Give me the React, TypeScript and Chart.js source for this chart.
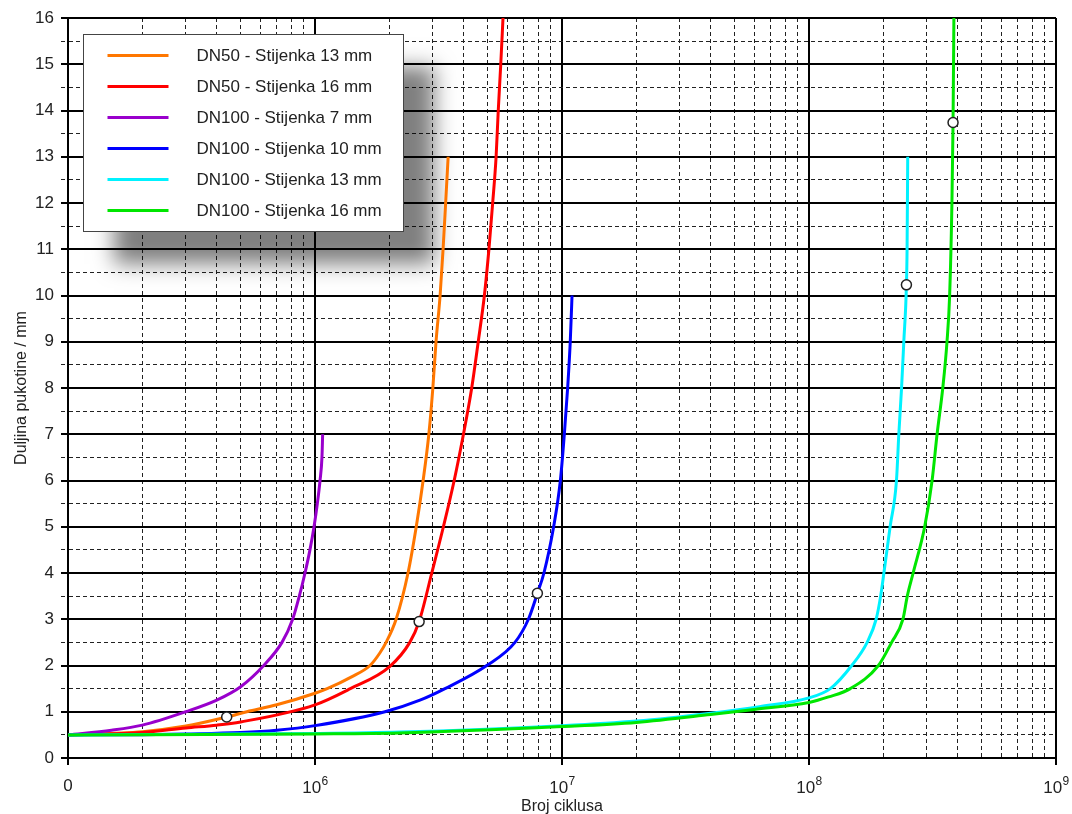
import React, { useEffect, useRef } from 'react';
import { Chart, registerables } from 'chart.js';

Chart.register(...registerables);

const FONT = "'Liberation Sans', Arial, sans-serif";

// Series labels and colours
const seriesLabels = [
  'DN50 - Stijenka 13 mm',
  'DN50 - Stijenka 16 mm',
  'DN100 - Stijenka 7 mm',
  'DN100 - Stijenka 10 mm',
  'DN100 - Stijenka 13 mm',
  'DN100 - Stijenka 16 mm',
];
const seriesColors = ['#FF7700', '#FF0000', '#9900CC', '#0000FF', '#00F2FF', '#00E600'];

// DN50 - 13 mm
const dn50w13N = [1e5, 2.0e5, 3.0e5, 4.39e5, 5.3e5, 7.0e5, 1.0e6, 1.12e6, 1.4e6, 1.67e6, 1.83e6, 1.94e6, 2.13e6, 2.38e6, 2.57e6, 2.74e6, 2.89e6, 3.0e6, 3.09e6, 3.21e6, 3.3e6, 3.38e6, 3.46e6];
const dn50w13L = [0.5, 0.57, 0.69, 0.886, 1.0, 1.15, 1.4, 1.5, 1.75, 2.0, 2.27, 2.5, 3.0, 4.0, 5.0, 6.0, 7.0, 8.0, 9.0, 10.0, 11.0, 12.0, 13.0];

// DN50 - 16 mm
const dn50w16N = [1e5, 2.0e5, 3.0e5, 4.0e5, 5.0e5, 1.0e6, 1.39e6, 2.0e6, 2.42e6, 2.64e6, 2.97e6, 3.31e6, 3.66e6, 3.99e6, 4.31e6, 4.58e6, 4.85e6, 5.06e6, 5.24e6, 5.41e6, 5.52e6, 5.65e6, 5.77e6];
const dn50w16L = [0.5, 0.55, 0.65, 0.71, 0.78, 1.15, 1.5, 1.97, 2.5, 2.95, 4.0, 5.0, 6.0, 7.0, 8.0, 9.0, 10.0, 11.0, 12.0, 13.0, 14.0, 15.0, 16.0];

// DN100 - 7 mm
const dn100w7N = [1e5, 1.5e5, 2.0e5, 3.0e5, 4.0e5, 5.0e5, 6.2e5, 7.35e5, 8.12e5, 8.64e5, 9.11e5, 9.54e5, 9.91e5, 1.022e6, 1.048e6, 1.067e6, 1.074e6];
const dn100w7L = [0.5, 0.6, 0.71, 1.0, 1.25, 1.54, 2.0, 2.5, 3.0, 3.5, 4.0, 4.5, 5.0, 5.5, 6.0, 6.5, 7.0];

// DN100 - 10 mm
const dn100w10N = [1e5, 2e5, 3e5, 5e5, 7e5, 1.0e6, 1.92e6, 2.66e6, 3.36e6, 4.96e6, 6.45e6, 7.31e6, 7.95e6, 8.45e6, 9.25e6, 9.85e6, 1.022e7, 1.054e7, 1.08e7, 1.098e7];
const dn100w10L = [0.5, 0.505, 0.52, 0.55, 0.6, 0.7, 1.0, 1.25, 1.5, 2.0, 2.5, 3.0, 3.56, 4.0, 5.0, 6.0, 7.0, 8.0, 9.0, 10.0];

// DN100 - 13 mm
const dn100w13N = [1e5, 1e6, 2.2e6, 1e7, 2e7, 4e7, 6.3e7, 1e8, 1.22e8, 1.49e8, 1.72e8, 1.87e8, 1.95e8, 2.01e8, 2.13e8, 2.26e8, 2.31e8, 2.37e8, 2.42e8, 2.48e8, 2.495e8, 2.51e8];
const dn100w13L = [0.5, 0.53, 0.56, 0.7, 0.8, 0.97, 1.11, 1.3, 1.5, 2.0, 2.5, 3.0, 3.5, 4.0, 5.0, 6.0, 7.0, 8.0, 9.0, 10.23, 11.0, 13.0];

// DN100 - 16 mm
const dn100w16N = [1e5, 1e6, 2.2e6, 1e7, 2e7, 4e7, 6e7, 1e8, 1.2e8, 1.47e8, 1.91e8, 2.16e8, 2.4e8, 2.5e8, 2.64e8, 2.94e8, 3.15e8, 3.3e8, 3.48e8, 3.62e8, 3.71e8, 3.79e8, 3.83e8, 3.86e8];
const dn100w16L = [0.5, 0.52, 0.54, 0.68, 0.77, 0.94, 1.05, 1.2, 1.32, 1.5, 2.0, 2.5, 3.0, 3.5, 4.0, 5.0, 6.0, 7.0, 8.0, 9.0, 10.0, 12.0, 13.74, 16.0];

const seriesN = [dn50w13N, dn50w16N, dn100w7N, dn100w10N, dn100w13N, dn100w16N];
const seriesL = [dn50w13L, dn50w16L, dn100w7L, dn100w10L, dn100w13L, dn100w16L];

// Marked points (white circles)
const markerN = [4.39e5, 2.64e6, 7.95e6, 2.48e8, 3.83e8];
const markerL = [0.886, 2.95, 3.56, 10.23, 13.74];

// Axis settings
const xDecades = [5, 6, 7, 8];
const xMantissas = [1, 2, 3, 4, 5, 6, 7, 8, 9];
const xLabelDecades = [6, 7, 8, 9];
const xMin = 1e5;
const xMax = 1e9;
const yMin = 0;
const yMax = 16;
const yStep = 0.5;

const xTickValues: number[] = [];
xDecades.forEach((e) => xMantissas.forEach((m) => xTickValues.push(Number(`${m}e${e}`))));
xTickValues.push(xMax);

const isDecade = (v?: number) => {
  if (v === undefined) return true;
  const l = Math.log10(v);
  return Math.abs(l - Math.round(l)) < 1e-9;
};
const isInt = (v?: number) => v === undefined || Math.abs(v - Math.round(v)) < 1e-9;

const legendPlugin = {
  id: 'boxLegend',
  beforeDatasetsDraw(chart: any) {
    const { ctx, chartArea } = chart;
    const bx = chartArea.left + 15.5;
    const by = chartArea.top + 16.5;
    const bw = 320;
    const bh = 197;
    ctx.save();
    ctx.shadowColor = 'rgba(0,0,0,0.5)';
    ctx.shadowBlur = 20;
    ctx.shadowOffsetX = 30;
    ctx.shadowOffsetY = 32;
    ctx.fillStyle = '#ffffff';
    ctx.fillRect(bx, by, bw, bh);
    ctx.restore();
    ctx.save();
    ctx.strokeStyle = '#444';
    ctx.lineWidth = 1;
    ctx.strokeRect(bx, by, bw, bh);
    ctx.font = `17px ${FONT}`;
    ctx.textBaseline = 'middle';
    ctx.textAlign = 'left';
    seriesLabels.forEach((label, i) => {
      const y = by + 21 + i * 31;
      ctx.strokeStyle = seriesColors[i];
      ctx.lineWidth = 3;
      ctx.beginPath();
      ctx.moveTo(bx + 24, y);
      ctx.lineTo(bx + 85, y);
      ctx.stroke();
      ctx.fillStyle = '#222';
      ctx.fillText(label, bx + 113, y + 1);
    });
    ctx.restore();
  },
};

// Draws the power-of-ten labels ("10" with a raised exponent) under the x axis
const powerLabelPlugin = {
  id: 'powerLabels',
  afterDraw(chart: any) {
    const { ctx, scales } = chart;
    const xs = scales.x;
    const baseY = chart.chartArea.bottom + 35;
    ctx.save();
    ctx.fillStyle = '#222';
    ctx.textBaseline = 'alphabetic';
    ctx.textAlign = 'left';
    xLabelDecades.forEach((e) => {
      const px = xs.getPixelForValue(Number(`1e${e}`));
      ctx.font = `17px ${FONT}`;
      const wBase = ctx.measureText('10').width;
      ctx.font = `12px ${FONT}`;
      const wExp = ctx.measureText(String(e)).width;
      const start = px - (wBase + wExp) / 2;
      ctx.font = `17px ${FONT}`;
      ctx.fillText('10', start, baseY);
      ctx.font = `12px ${FONT}`;
      ctx.fillText(String(e), start + wBase + 0.5, baseY - 8);
    });
    ctx.restore();
  },
};

export default function App() {
  const canvasRef = useRef<HTMLCanvasElement | null>(null);

  useEffect(() => {
    if (!canvasRef.current) return;
    const datasets: any[] = seriesLabels.map((label, i) => ({
      type: 'line',
      label,
      data: seriesN[i].map((n, j) => ({ x: n, y: seriesL[i][j] })),
      borderColor: seriesColors[i],
      backgroundColor: seriesColors[i],
      borderWidth: 3,
      pointRadius: 0,
      cubicInterpolationMode: 'monotone',
      fill: false,
      order: 6 - i,
    }));
    datasets.push({
      type: 'scatter',
      label: 'markers',
      data: markerN.map((n, j) => ({ x: n, y: markerL[j] })),
      pointRadius: 5,
      pointBackgroundColor: '#ffffff',
      pointBorderColor: '#222',
      pointBorderWidth: 1.5,
      showLine: false,
      order: 0,
    });

    const chart = new Chart(canvasRef.current, {
      type: 'line',
      data: { datasets },
      plugins: [legendPlugin, powerLabelPlugin],
      options: {
        responsive: false,
        animation: false,
        devicePixelRatio: 1,
        layout: { padding: { left: 0, right: 16, top: 18, bottom: 0 } },
        plugins: { legend: { display: false }, tooltip: { enabled: false } },
        scales: {
          x: {
            type: 'logarithmic',
            min: xMin,
            max: xMax,
            afterBuildTicks: (scale: any) => {
              scale.ticks = xTickValues.map((v) => ({ value: v }));
            },
            afterFit: (scale: any) => {
              scale.height = 72;
            },
            ticks: {
              autoSkip: false,
              maxRotation: 0,
              padding: 11,
              color: '#222',
              font: { family: FONT, size: 17 },
              callback: (value: any) => (Math.abs(Number(value) - xMin) < 1 ? '0' : ''),
            },
            grid: {
              color: (c: any) => (isDecade(c.tick?.value) ? '#000' : '#222'),
              lineWidth: (c: any) => (isDecade(c.tick?.value) ? 2 : 1),
              tickLength: 7,
              tickColor: (c: any) => (isDecade(c.tick?.value) ? '#000' : 'rgba(0,0,0,0)'),
              tickWidth: 2,
            },
            border: {
              display: true,
              color: '#000',
              width: 2,
              dash: (c: any) => (isDecade(c.tick?.value) ? [] : [4, 3]),
            },
            title: {
              display: true,
              text: 'Broj ciklusa',
              color: '#222',
              font: { family: FONT, size: 16 },
              padding: { top: 0, bottom: 14 },
            },
          },
          y: {
            type: 'linear',
            min: yMin,
            max: yMax,
            afterFit: (scale: any) => {
              scale.width = 68;
            },
            ticks: {
              stepSize: yStep,
              autoSkip: false,
              padding: 7,
              color: '#222',
              font: { family: FONT, size: 17 },
              callback: (value: any) => (isInt(Number(value)) ? String(value) : ''),
            },
            grid: {
              color: (c: any) => (isInt(c.tick?.value) ? '#000' : '#222'),
              lineWidth: (c: any) => (isInt(c.tick?.value) ? 2 : 1),
              tickLength: 7,
              tickWidth: (c: any) => (isInt(c.tick?.value) ? 2 : 1),
              tickBorderDash: (c: any) => (isInt(c.tick?.value) ? [] : [4, 3]),
            },
            border: {
              display: true,
              color: '#000',
              width: 2,
              dash: (c: any) => (isInt(c.tick?.value) ? [] : [4, 3]),
            },
            title: {
              display: true,
              text: 'Duljina pukotine / mm',
              color: '#222',
              font: { family: FONT, size: 16 },
              padding: { top: 12, bottom: 0 },
            },
          },
        },
      } as any,
    });
    return () => chart.destroy();
  }, []);

  return (
    <div style={{ position: 'absolute', left: 0, top: 0, width: 1072, height: 830, background: '#fff' }}>
      <canvas ref={canvasRef} width={1072} height={830} style={{ display: 'block' }} />
    </div>
  );
}
